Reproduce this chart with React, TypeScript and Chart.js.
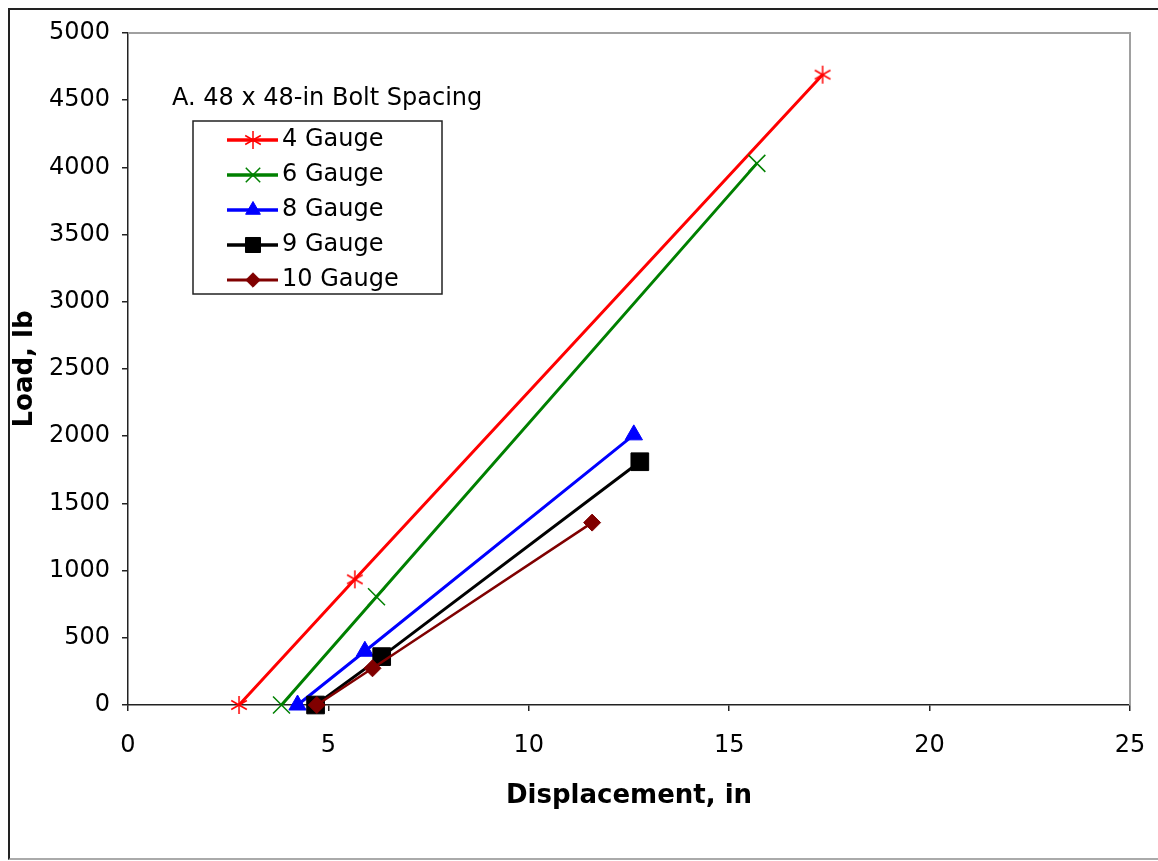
import React, { useEffect, useRef } from 'react';
import { Chart, registerables } from 'chart.js';
import { drawPoint } from 'chart.js/helpers';

Chart.register(...registerables);

// ---- data ----
const panelTitle = 'A. 48 x 48-in Bolt Spacing';
const xAxisTitle = 'Displacement, in';
const yAxisTitle = 'Load, lb';
const seriesNames = ['4 Gauge', '6 Gauge', '8 Gauge', '9 Gauge', '10 Gauge'];

const gauge4X = [2.77, 5.66, 17.33];
const gauge4Y = [0, 935, 4690];
const gauge6X = [3.83, 6.2, 15.69];
const gauge6Y = [0, 806, 4030];
const gauge8X = [4.23, 5.91, 12.62];
const gauge8Y = [0, 400, 2010];
const gauge9X = [4.68, 6.33, 12.77];
const gauge9Y = [0, 360, 1810];
const gauge10X = [4.71, 6.1, 11.58];
const gauge10Y = [0, 273, 1357];

const xTicks = [0, 5, 10, 15, 20, 25];
const yTicks = [0, 500, 1000, 1500, 2000, 2500, 3000, 3500, 4000, 4500, 5000];

// ---- styles ----
const seriesColors = ['#FF0000', '#008000', '#0000FF', '#000000', '#800000'];
const seriesMarkers = ['asterisk', 'crossRot', 'triangle', 'rect', 'rectRot'];
const markerRadius = [9, 12, 10, 12.5, 8.5];
const markerBorder = [1.5, 1.5, 1, 1, 1];
const lineWidths = [3, 3, 3, 3, 2.5];

const FONT = '"DejaVu Sans", "Liberation Sans", Arial, sans-serif';

const allX = [gauge4X, gauge6X, gauge8X, gauge9X, gauge10X];
const allY = [gauge4Y, gauge6Y, gauge8Y, gauge9Y, gauge10Y];

function makeAsterisk(color: string, r: number, lw: number): HTMLCanvasElement {
  const size = Math.ceil(2 * r + 4);
  const c = document.createElement('canvas');
  c.width = size;
  c.height = size;
  const g = c.getContext('2d')!;
  const cx = size / 2;
  g.strokeStyle = color;
  g.lineWidth = lw;
  [90, 30, 150].forEach((deg) => {
    const a = (deg * Math.PI) / 180;
    g.beginPath();
    g.moveTo(cx - Math.cos(a) * r, cx - Math.sin(a) * r);
    g.lineTo(cx + Math.cos(a) * r, cx + Math.sin(a) * r);
    g.stroke();
  });
  return c;
}

const framePlugin = {
  id: 'plotFrame',
  beforeDatasetsDraw(chart: any) {
    const { ctx, chartArea: a } = chart;
    ctx.save();
    ctx.strokeStyle = '#a0a0a0';
    ctx.lineWidth = 2;
    ctx.beginPath();
    ctx.moveTo(a.left, a.top);
    ctx.lineTo(a.right, a.top);
    ctx.lineTo(a.right, a.bottom);
    ctx.stroke();
    ctx.restore();
  },
};

const insetLegendPlugin = {
  id: 'insetLegend',
  afterDraw(chart: any) {
    const { ctx } = chart;
    ctx.save();
    ctx.font = `24px ${FONT}`;
    ctx.fillStyle = '#000';
    ctx.textBaseline = 'middle';
    ctx.textAlign = 'left';
    ctx.fillText(panelTitle, 162, 89);
    ctx.strokeStyle = '#222';
    ctx.lineWidth = 1.5;
    ctx.strokeRect(183, 111, 249, 173);
    chart.data.datasets.forEach((ds: any, i: number) => {
      const y = 130 + i * 35;
      ctx.strokeStyle = ds.borderColor;
      ctx.lineWidth = ds.borderWidth + 0.5;
      ctx.beginPath();
      ctx.moveTo(217, y);
      ctx.lineTo(268, y);
      ctx.stroke();
      ctx.fillStyle = ds.pointBackgroundColor;
      ctx.strokeStyle = ds.pointBorderColor;
      ctx.lineWidth = ds.pointBorderWidth;
      drawPoint(
        ctx,
        { pointStyle: ds.pointStyle, radius: ds.pointRadius * 0.85, rotation: 0, borderWidth: ds.pointBorderWidth } as any,
        243,
        y
      );
      ctx.fillStyle = '#000';
      ctx.font = `24px ${FONT}`;
      ctx.textBaseline = 'middle';
      ctx.fillText(ds.label, 272, y);
    });
    ctx.restore();
  },
};

export default function App() {
  const canvasRef = useRef<HTMLCanvasElement>(null);

  useEffect(() => {
    const datasets = seriesNames.map((name, i) => ({
      label: name,
      data: allX[i].map((x, j) => ({ x, y: allY[i][j] })),
      showLine: true,
      borderColor: seriesColors[i],
      backgroundColor: seriesColors[i],
      borderWidth: lineWidths[i],
      pointStyle:
        seriesMarkers[i] === 'asterisk'
          ? makeAsterisk(seriesColors[i], markerRadius[i], markerBorder[i])
          : seriesMarkers[i],
      pointRadius: markerRadius[i],
      pointHoverRadius: markerRadius[i],
      pointBorderWidth: markerBorder[i],
      pointBackgroundColor: seriesColors[i],
      pointBorderColor: seriesColors[i],
      order: seriesNames.length - i,
      clip: false as any,
    }));

    const chart = new Chart(canvasRef.current!, {
      type: 'scatter',
      data: { datasets },
      plugins: [framePlugin, insetLegendPlugin],
      options: {
        animation: false,
        responsive: true,
        maintainAspectRatio: false,
        layout: { padding: { left: 0, right: 28, top: 23, bottom: 0 } },
        plugins: {
          legend: { display: false },
          tooltip: { enabled: false },
        },
        scales: {
          x: {
            type: 'linear',
            min: xTicks[0],
            max: xTicks[xTicks.length - 1],
            afterFit: (s: any) => {
              s.height = 153;
              s.paddingLeft = 0;
              s.paddingRight = 0;
            },
            afterBuildTicks: (s: any) => {
              s.ticks = xTicks.map((v) => ({ value: v }));
            },
            ticks: {
              color: '#000',
              font: { family: FONT, size: 24 },
              padding: 20,
              maxRotation: 0,
              callback: (v: any) => String(v),
            },
            grid: {
              drawOnChartArea: false,
              drawTicks: true,
              tickLength: 6,
              color: '#222',
              lineWidth: 1.5,
            },
            border: { color: '#222', width: 1.5 },
            title: {
              display: true,
              text: xAxisTitle,
              color: '#000',
              font: { family: FONT, size: 26, weight: 'bold' },
              padding: { top: 0, bottom: 46 },
            },
          },
          y: {
            type: 'linear',
            min: yTicks[0],
            max: yTicks[yTicks.length - 1],
            afterFit: (s: any) => {
              s.width = 118;
              s.paddingTop = 0;
              s.paddingBottom = 0;
            },
            afterBuildTicks: (s: any) => {
              s.ticks = yTicks.map((v) => ({ value: v }));
            },
            ticks: {
              color: '#000',
              font: { family: FONT, size: 24 },
              padding: 12,
              callback: (v: any) => String(v),
            },
            grid: {
              drawOnChartArea: false,
              drawTicks: true,
              tickLength: 6,
              color: '#222',
              lineWidth: 1.5,
            },
            border: { color: '#222', width: 1.5 },
            title: {
              display: true,
              text: yAxisTitle,
              color: '#000',
              font: { family: FONT, size: 26, weight: 'bold' },
              padding: { top: 0, bottom: 0 },
            },
          },
        },
      } as any,
    });
    return () => chart.destroy();
  }, []);

  return (
    <>
      <style>{`html, body { overflow: hidden; margin: 0; }`}</style>
      <div
        style={{
          position: 'absolute',
          left: 8,
          top: 8,
          width: 1300,
          height: 848,
          borderTop: '2px solid #222',
          borderLeft: '2px solid #222',
          borderBottom: '2px solid #aaa',
          background: '#fff',
        }}
      >
        <div style={{ position: 'relative', width: 1148, height: 848 }}>
          <canvas ref={canvasRef} />
        </div>
      </div>
    </>
  );
}
